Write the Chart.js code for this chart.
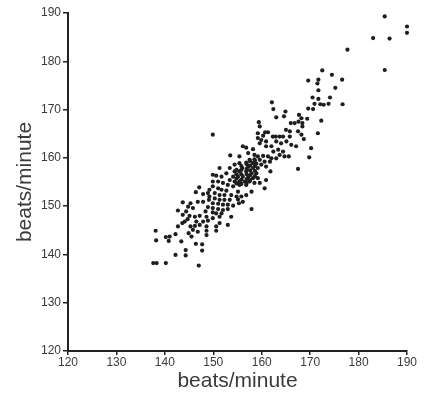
<!DOCTYPE html>
<html>
<head>
<meta charset="utf-8">
<script src="https://cdn.jsdelivr.net/npm/chart.js@4"></script>
<style>
html,body{margin:0;padding:0;background:#fff;}
#c{display:block;}
</style>
</head>
<body>
<canvas id="c" width="425" height="401"></canvas>
<script>
const xTickLabels = [120,130,140,150,160,170,180,190];
const yTickLabels = [120,130,140,150,160,170,180,190];
const axisTitleX = "beats/minute";
const axisTitleY = "beats/minute";

const xs = [
185.4,190,190,183.0,186.4,177.7,185.4,172.5,174.5,176.6,169.6,171.7,171.5,175.2,171.7,170.5,171.7,174.1,170.9,172.1,
172.8,173.8,176.7,162.1,162.4,169.6,170.6,164.9,163.0,164.6,167.7,168.2,169.4,172.3,159.4,166.0,166.8,167.6,168.4,159.6,
165.0,165.8,167.5,168.4,171.6,160.7,161.3,159.2,160.3,162.3,162.9,163.7,164.4,165.8,168.2,149.9,168.7,159.2,159.9,160.9,
163.0,164.0,165.1,166.1,167.1,170.2,156.1,156.8,158.2,159.6,160.9,162.0,162.4,163.4,164.4,165.6,163.7,164.7,163.0,162.0,
169.8,153.5,155.4,157.2,158.5,159.2,160.3,161.3,161.7,160.6,159.6,158.5,157.5,156.8,158.2,158.9,159.9,160.9,161.8,167.5,
155.4,154.4,153.4,151.3,156.0,157.2,158.2,159.2,154.4,155.4,156.8,157.9,158.9,152.7,149.9,150.6,151.7,154.1,155.1,156.1,
157.2,158.2,159.2,160.9,153.4,154.4,155.4,156.5,157.5,158.5,159.6,149.9,151.0,152.0,153.0,154.1,155.4,156.8,160.6,149.9,
151.0,149.2,151.7,152.7,155.1,157.9,146.4,147.1,147.9,148.9,150.3,151.3,152.3,153.7,154.8,155.8,156.8,149.2,150.3,151.3,
152.3,153.4,155.1,156.1,146.8,147.9,143.7,145.3,149.1,149.9,151.0,152.0,153.0,154.1,155.3,157.9,144.8,145.8,148.9,149.9,
151.0,152.0,153.0,142.7,144.4,148.4,149.9,150.6,151.7,143.7,145.1,146.2,147.2,148.6,148.9,151.3,153.7,144.7,144.1,146.5,
147.9,149.9,151.3,153.0,143.6,142.7,145.3,146.2,147.2,148.6,150.6,145.8,146.8,148.6,150.6,138.1,142.2,144.9,145.5,148.6,
140.2,141.0,138.2,140.8,143.4,146.4,147.7,142.2,144.3,144.3,147.7,137.6,138.3,140.2,147.0,
154.8,154.8,154.8,154.8,155.8,155.8,155.8,155.8,155.8,156.9,156.9,156.9,156.9,156.9,157.6,157.6,157.6,157.6,157.6,
158.6,158.6,158.6,158.6
];
const ys = [
189.3,187.2,185.9,184.8,184.7,182.4,178.2,178.1,177.2,176.2,176.0,176.2,175.4,174.5,174.0,172.5,172.2,172.5,171.2,171.1,
171.0,171.2,171.1,171.5,170.1,170.2,170.1,169.6,168.4,168.6,168.9,168.2,168.1,167.7,167.4,167.2,167.2,167.5,167.2,166.5,
165.8,165.5,165.5,166.5,165.1,165.3,165.3,165.1,164.6,164.4,164.4,164.4,164.4,164.4,164.8,164.8,163.9,164.1,163.7,163.4,
163.4,163.0,163.4,162.7,162.4,162.0,162.4,162.1,161.8,163.0,162.4,162.4,161.3,161.7,161.3,160.3,160.6,160.3,159.9,159.9,
160.1,160.5,160.3,161.0,160.6,160.3,160.4,160.3,159.2,159.2,159.6,159.7,159.6,159.0,158.9,158.8,158.6,158.2,157.2,157.7,
158.9,158.6,157.9,157.9,157.9,158.2,157.9,157.9,157.2,157.2,157.2,156.8,156.8,156.8,156.5,156.3,156.1,156.1,156.1,156.1,
156.0,155.8,155.8,155.4,155.4,155.1,155.1,155.1,155.1,154.8,154.8,155.1,155.1,154.8,154.4,154.1,154.4,154.4,153.7,154.1,
153.7,153.4,153.4,153.2,153.0,153.0,152.9,153.9,152.5,152.7,152.7,152.3,152.3,152.3,152.0,152.0,152.3,152.0,151.6,151.3,
151.3,151.3,151.4,150.9,150.9,150.9,150.8,150.6,151.3,150.6,150.5,150.3,150.3,150.1,150.6,149.4,149.9,149.6,149.8,149.6,
149.4,149.2,149.4,149.1,148.9,148.9,148.7,148.5,148.5,148.2,148.0,147.8,148.0,147.8,147.0,147.8,147.8,147.3,146.8,146.8,
146.8,147.5,146.5,146.1,146.5,145.8,145.8,145.9,146.1,145.8,145.8,145.1,144.7,144.9,144.9,144.9,144.2,144.4,143.7,144.0,
143.6,143.7,142.9,142.8,142.7,142.2,142.1,139.9,140.9,139.8,140.8,138.2,138.2,138.2,137.7,
157.5,156.6,155.7,154.7,158.3,157.5,156.6,155.5,154.6,158.7,157.7,156.6,155.6,154.8,159.3,158.4,157.4,156.4,155.4,
159.4,158.3,157.3,156.2
];

const points = xs.map((x, i) => ({x: x, y: ys[i]}));

const tickFont = {family: "'Liberation Sans', Arial, Helvetica, sans-serif", size: 12};
const titleFont = {family: "'Liberation Sans', Arial, Helvetica, sans-serif", size: 21};
const textColor = '#3a3a3a';
const axisColor = '#222';

function axis(ticksArr, title, isY) {
  return {
    type: 'linear',
    min: ticksArr[0],
    max: ticksArr[ticksArr.length - 1],
    afterBuildTicks: (s) => { s.ticks = ticksArr.map(v => ({value: v})); },
    ticks: {color: textColor, font: tickFont, padding: isY ? 2 : 0, autoSkip: false, maxRotation: 0},
    grid: {display: true, drawOnChartArea: false, drawTicks: true, tickLength: isY ? 5 : 4, color: axisColor, lineWidth: 1.5},
    border: {display: true, color: axisColor, width: 2},
    title: {display: true, text: title, color: textColor, font: titleFont,
            padding: isY ? {top: 13, bottom: 0} : {top: 0, bottom: 7}},
    afterFit: (s) => { if (isY) s.width = 68; else s.height = 50; }
  };
}

new Chart(document.getElementById('c'), {
  type: 'scatter',
  data: {datasets: [{data: points, backgroundColor: '#1e1e1e', borderColor: '#1e1e1e', pointRadius: 2.1, borderWidth: 0, clip: false}]},
  options: {
    responsive: false,
    animation: false,
    layout: {padding: {top: 13, right: 18, left: 0, bottom: 0}},
    plugins: {legend: {display: false}, tooltip: {enabled: false}},
    scales: {
      x: axis(xTickLabels, axisTitleX, false),
      y: axis(yTickLabels, axisTitleY, true)
    }
  }
});
</script>
</body>
</html>
